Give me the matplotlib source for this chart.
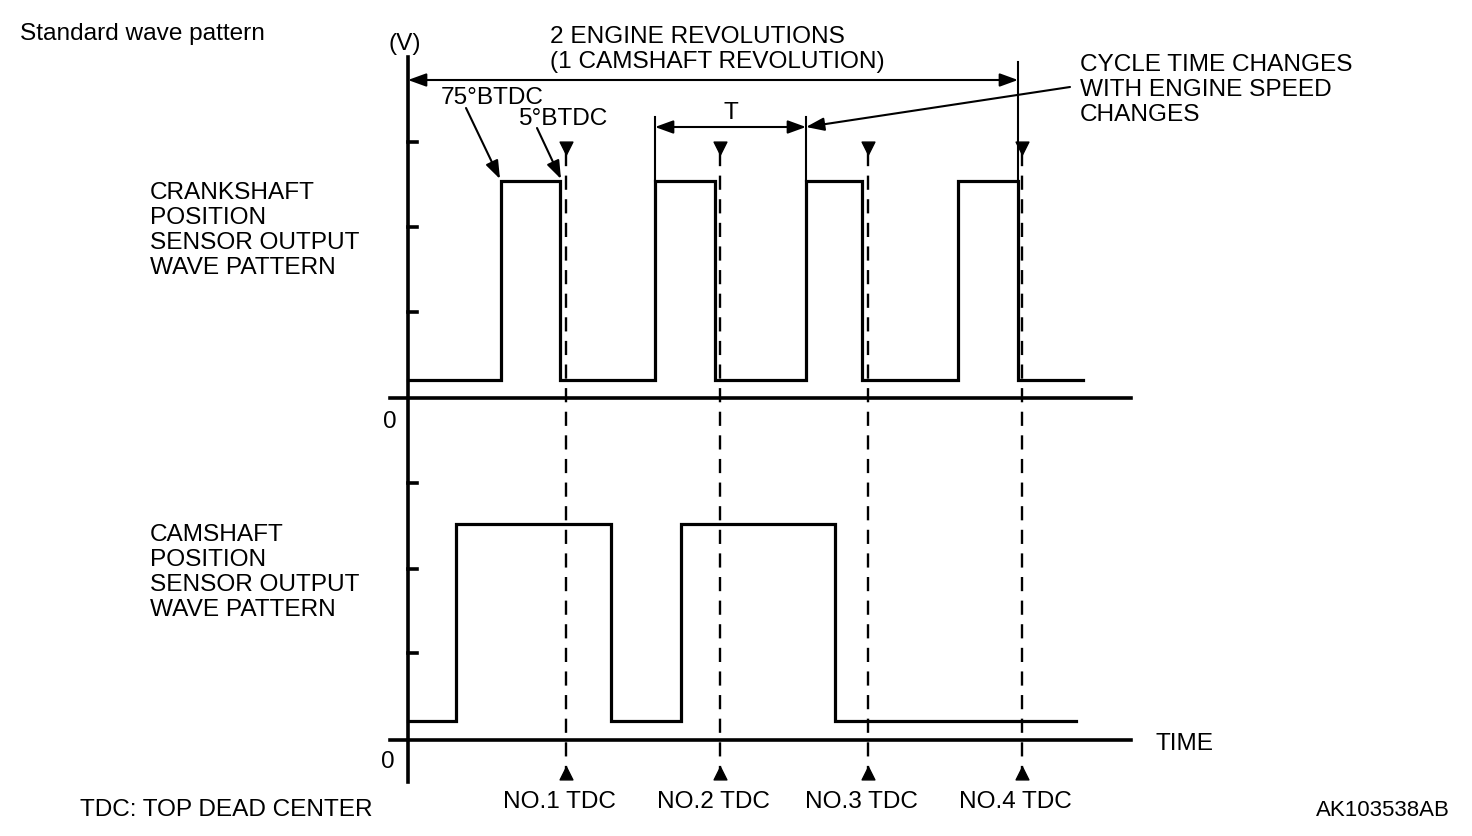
import matplotlib.pyplot as plt

# time positions (horizontal units) and signal levels (vertical units)
crank_edges = [501, 560, 655, 715, 806, 862, 958, 1018]
crank_span = [408, 1083]
crank_levels = [380, 181]   # low, high
cam_edges = [456, 611, 681, 835]
cam_span = [408, 1076]
cam_levels = [721, 524]
tdc_times = [566, 720, 868, 1022]
tdc_labels = ['NO.1 TDC', 'NO.2 TDC', 'NO.3 TDC', 'NO.4 TDC']
crank_ticks = [142, 227, 312]
cam_ticks = [483, 569, 653]
crank_label = ['CRANKSHAFT', 'POSITION', 'SENSOR OUTPUT', 'WAVE PATTERN']
cam_label = ['CAMSHAFT', 'POSITION', 'SENSOR OUTPUT', 'WAVE PATTERN']
note_label = ['CYCLE TIME CHANGES', 'WITH ENGINE SPEED', 'CHANGES']

plt.rcParams['font.family'] = ['Liberation Sans', 'DejaVu Sans']
FS = 17.6


def square_wave(edges, span, levels):
    low, high = levels
    xs, ys = [span[0]], [low]
    level = low
    for e in edges:
        new = high if level == low else low
        xs += [e, e]
        ys += [level, new]
        level = new
    xs.append(span[1])
    ys.append(level)
    return xs, ys


def arrow(ax, tail, tip, style='-|>'):
    ax.annotate('', xy=tip, xytext=tail,
                arrowprops=dict(arrowstyle=style + ',head_length=0.55,head_width=0.2',
                                lw=1.5, color='black', mutation_scale=20,
                                shrinkA=0, shrinkB=0))


fig = plt.figure(figsize=(14.72, 8.36), dpi=100)
ax = fig.add_axes([0, 0, 1, 1])
ax.set_xlim(0, 1472)
ax.set_ylim(836, 0)
ax.axis('off')

# axes
ax.plot([408, 408], [57, 782], color='black', lw=2.6)
ax.plot([390, 1131], [398, 398], color='black', lw=2.6)
ax.plot([390, 1131], [740, 740], color='black', lw=2.6)
for t in crank_ticks + cam_ticks:
    ax.plot([408, 417], [t, t], color='black', lw=2.6)

# signals
xs, ys = square_wave(crank_edges, crank_span, crank_levels)
ax.plot(xs, ys, color='black', lw=2.3, solid_joinstyle='miter')
xs, ys = square_wave(cam_edges, cam_span, cam_levels)
ax.plot(xs, ys, color='black', lw=2.3, solid_joinstyle='miter')

# TDC markers
for t, lab in zip(tdc_times, tdc_labels):
    ax.plot([t, t], [152, 770], color='black', lw=1.7, dashes=(6, 4))
    ax.scatter([t], [148], marker='v', s=85, color='black', zorder=3)
    ax.scatter([t], [773], marker='^', s=85, color='black', zorder=3)
    ax.text(t - 7, 802, lab, fontsize=FS, ha='center', va='center')

# 2 engine revolutions dimension
ax.plot([crank_edges[-1], crank_edges[-1]], [62, crank_levels[1]], color='black', lw=1.5)
arrow(ax, (408, 80), (crank_edges[-1], 80), '<|-|>')
ax.text(550, 37, '2 ENGINE REVOLUTIONS', fontsize=FS, va='center')
ax.text(550, 62, '(1 CAMSHAFT REVOLUTION)', fontsize=FS, va='center')
ax.text(389, 44, '(V)', fontsize=FS, va='center')

# T dimension
for e in (crank_edges[2], crank_edges[4]):
    ax.plot([e, e], [117, crank_levels[1]], color='black', lw=1.5)
arrow(ax, (crank_edges[2], 127), (crank_edges[4], 127), '<|-|>')
ax.text(731, 113, 'T', fontsize=FS, ha='center', va='center')

# leader from note
arrow(ax, (1070, 87), (crank_edges[4], 127))
for i, line in enumerate(note_label):
    ax.text(1080, 65 + 25 * i, line, fontsize=FS, va='center')

# BTDC annotations
ax.text(441, 98, '75°BTDC', fontsize=FS, va='center')
arrow(ax, (466, 108), (500, 179))
ax.text(518, 119, '5°BTDC', fontsize=FS, va='center')
arrow(ax, (537, 128), (561, 179))

# labels
for i, line in enumerate(crank_label):
    ax.text(150, 193 + 25 * i, line, fontsize=FS, va='center')
for i, line in enumerate(cam_label):
    ax.text(150, 535 + 25 * i, line, fontsize=FS, va='center')

ax.text(383, 422, '0', fontsize=FS, va='center')
ax.text(381, 762, '0', fontsize=FS, va='center')
ax.text(1155, 744, 'TIME', fontsize=FS, va='center')
ax.text(20, 34, 'Standard wave pattern', fontsize=FS, va='center')
ax.text(80, 810, 'TDC: TOP DEAD CENTER', fontsize=FS, va='center')
ax.text(1450, 810, 'AK103538AB', fontsize=16, ha='right', va='center')

fig.savefig('out.png', dpi=100)
